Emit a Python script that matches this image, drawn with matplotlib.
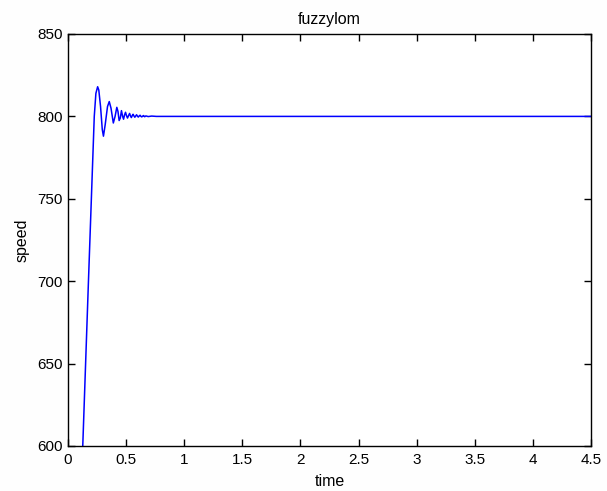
import matplotlib
matplotlib.use("Agg")
import matplotlib.pyplot as plt

time = [0.0, 0.127, 0.15, 0.175, 0.20, 0.226, 0.24, 0.255, 0.265, 0.28, 0.295, 0.305,
        0.32, 0.34, 0.355, 0.37, 0.39, 0.405, 0.42, 0.43, 0.44, 0.45, 0.46, 0.47, 0.478,
        0.487, 0.495, 0.503, 0.512, 0.521, 0.53, 0.538, 0.545, 0.553, 0.56, 0.568,
        0.575, 0.583, 0.59, 0.598, 0.605, 0.613, 0.62, 0.628, 0.635, 0.643, 0.65,
        0.66, 0.67, 0.69, 0.72, 0.76, 4.5]
speed = [0.0, 600.0, 647.0, 698.0, 748.0, 800.0, 814.0, 818.0, 816.0, 806.0, 792.0, 788.0,
         795.0, 806.0, 809.0, 805.0, 796.0, 800.0, 805.5, 803.0, 797.5, 799.0, 803.5, 800.0, 798.3,
         801.0, 802.5, 800.5, 799.0, 800.5, 801.8, 800.2, 799.3, 800.5, 801.3, 800.2,
         799.5, 800.3, 801.0, 800.1, 799.6, 800.3, 800.7, 800.0, 799.7, 800.2, 800.5,
         799.8, 800.3, 799.9, 800.2, 800.0, 800.0]

title = "fuzzylom"
xlabel = "time"
ylabel = "speed"
xticks = [0, 0.5, 1, 1.5, 2, 2.5, 3, 3.5, 4, 4.5]
xticklabels = ["0", "0.5", "1", "1.5", "2", "2.5", "3", "3.5", "4", "4.5"]
yticks = [600, 650, 700, 750, 800, 850]

plt.rcParams['font.family'] = ['Liberation Sans', 'DejaVu Sans']
fig = plt.figure(figsize=(6.07, 4.91), dpi=100)
fig.patch.set_facecolor('#fefefe')
ax = fig.add_axes([68/607, 1-446/491, (591-68)/607, (446-34)/491])
ax.set_facecolor('white')
ax.plot(time, speed, color='#0000ff', lw=1.1)
ax.set_xlim(0, 4.5)
ax.set_ylim(600, 850)
ax.set_xticks(xticks)
ax.set_xticklabels(xticklabels)
ax.set_yticks(yticks)
ax.tick_params(direction='in', length=5, width=1, top=True, right=True,
               labelsize=11, colors='black')
ax.tick_params(axis='x', pad=5)
ax.tick_params(axis='y', pad=4)
for s in ax.spines.values():
    s.set_linewidth(1.0)
ax.set_title(title, fontsize=11.5, pad=7)
ax.set_xlabel(xlabel, fontsize=11.5, labelpad=5)
ax.set_ylabel(ylabel, fontsize=11.5, labelpad=5)
fig.savefig("out.png", dpi=100, facecolor=fig.get_facecolor())
